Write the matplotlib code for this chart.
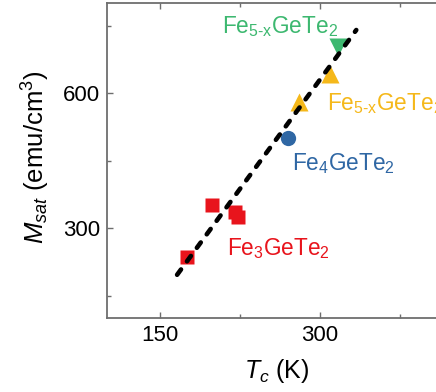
import matplotlib
matplotlib.use("Agg")
import matplotlib.pyplot as plt
from matplotlib.ticker import FixedLocator

plt.rcParams['font.family'] = ['Liberation Sans', 'DejaVu Sans']
plt.rcParams['mathtext.fontset'] = 'custom'
plt.rcParams['mathtext.rm'] = 'Liberation Sans'
plt.rcParams['mathtext.it'] = 'Liberation Sans:italic'
plt.rcParams['mathtext.bf'] = 'Liberation Sans:bold'

# Curie temperature (K) and saturation magnetization (emu/cm^3)
tc_fe3 = [175, 199, 220, 223]
ms_fe3 = [236, 351, 336, 324]
tc_fe4 = [270]
ms_fe4 = [499]
tc_fe5_y = [280, 309]
ms_fe5_y = [581, 642]
tc_fe5_g = [317]
ms_fe5_g = [703]

# linear trend line end points
fit_tc = [166, 334]
fit_ms = [196, 740]

x_major = [150, 300]
x_minor = [225, 375]
y_major = [300, 600]
y_minor = [150, 450, 750]

c_red = '#e8141c'
c_blue = '#2f67a4'
c_yellow = '#f5b81a'
c_green = '#3db870'
c_axis = '#6e6e6e'

fig = plt.figure(figsize=(4.36, 3.92), dpi=100)
W, H = 436, 392
ax_left, ax_right = 106.7, 480.0
ax_top, ax_bottom = 3.0, 318.0
ax = fig.add_axes([ax_left / W, (H - ax_bottom) / H,
                   (ax_right - ax_left) / W, (ax_bottom - ax_top) / H])
ax.set_xlim(100, 450)
ax.set_ylim(100, 800)

ax.plot(tc_fe3, ms_fe3, 's', color=c_red, ms=9.5, mec='none', zorder=3)
ax.plot(tc_fe4, ms_fe4, 'o', color=c_blue, ms=11, mec='none', zorder=3)
ax.plot(tc_fe5_y, ms_fe5_y, '^', color=c_yellow, ms=12.5, mec='none', zorder=3)
ax.plot(tc_fe5_g, ms_fe5_g, 'v', color=c_green, ms=12.5, mec='none', zorder=3)

line, = ax.plot(fit_tc, fit_ms, color='black', lw=3.3, zorder=4,
                dash_capstyle='round', solid_capstyle='round')
line.set_dashes((1.45, 2.2))

lab_fs = 16.3
ax.text(208, 733, r'Fe$_{\mathrm{5\text{-}x}}$GeTe$_2$', color=c_green,
        fontsize=lab_fs, va='baseline', ha='left')
ax.text(306.6, 562, r'Fe$_{\mathrm{5\text{-}x}}$GeTe$_2$', color=c_yellow,
        fontsize=lab_fs, va='baseline', ha='left')
ax.text(273.8, 429, r'Fe$_4$GeTe$_2$', color=c_blue,
        fontsize=lab_fs, va='baseline', ha='left')
ax.text(212.8, 240, r'Fe$_3$GeTe$_2$', color=c_red,
        fontsize=lab_fs, va='baseline', ha='left')

ax.xaxis.set_major_locator(FixedLocator(x_major))
ax.xaxis.set_minor_locator(FixedLocator(x_minor))
ax.yaxis.set_major_locator(FixedLocator(y_major))
ax.yaxis.set_minor_locator(FixedLocator(y_minor))
ax.tick_params(which='both', direction='in', top=True, right=True,
               color=c_axis, width=1.0)
ax.tick_params(which='major', length=4)
ax.tick_params(which='minor', length=3)
ax.tick_params(axis='x', labelsize=16, pad=5)
ax.tick_params(axis='y', labelsize=16, pad=5)
for s in ax.spines.values():
    s.set_color(c_axis)
    s.set_linewidth(1.3)

ax_w = ax_right - ax_left
ax_h = ax_bottom - ax_top
ax.set_xlabel(r'$T_c$ (K)', fontsize=18)
ax.xaxis.set_label_coords((277 - ax_left) / ax_w, -(357 - ax_bottom) / ax_h)
ax.set_ylabel(r'$M_{sat}$ (emu/cm$^3$)', fontsize=18.5)
ax.yaxis.set_label_coords(-(ax_left - 52) / ax_w, (ax_bottom - 157) / ax_h)

fig.savefig('out.png', dpi=100)
